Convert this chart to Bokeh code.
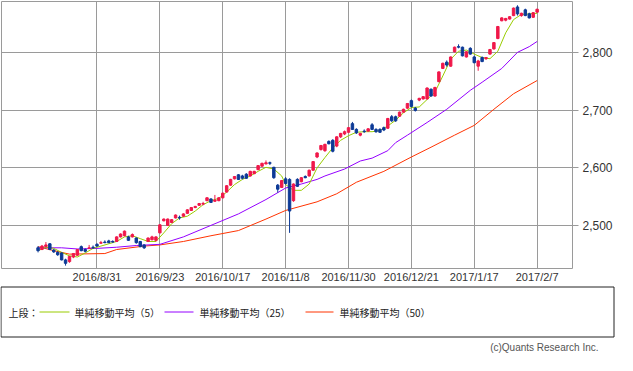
from bokeh.plotting import figure
from bokeh.models import FixedTicker, Range1d, ColumnDataSource
from bokeh.layouts import column
from bokeh.core.properties import value
from bokeh.embed import file_html
from bokeh.resources import INLINE

# ---- daily candles (index 0..127) ----
opens = [2461, 2458, 2463, 2468, 2457, 2453, 2452, 2440, 2437, 2445, 2448, 2463, 2458, 2460, 2462, 2467,
         2469, 2471, 2473, 2472, 2472, 2480, 2482, 2480, 2480, 2478, 2472, 2466, 2472, 2475, 2474, 2487,
         2508, 2500, 2505, 2513, 2514, 2516, 2521, 2526, 2531, 2535, 2537, 2543, 2546, 2542, 2543, 2548,
         2558, 2570, 2581, 2588, 2586, 2589, 2586, 2590, 2597, 2603, 2607, 2609, 2601, 2570, 2566, 2581,
         2580, 2543, 2580, 2576, 2585, 2586, 2596, 2619, 2632, 2630, 2646, 2648, 2638, 2654, 2659, 2662,
         2677, 2667, 2657, 2664, 2664, 2675, 2667, 2667, 2670, 2669, 2689, 2689, 2690, 2697, 2704, 2717,
         2704, 2718, 2720, 2720, 2737, 2725, 2750, 2773, 2784, 2777, 2802, 2811, 2810, 2793, 2808, 2793,
         2777, 2792, 2790, 2798, 2807, 2825, 2856, 2857, 2859, 2865, 2880, 2865, 2875, 2868, 2862, 2871]
highs = [2464, 2466, 2471, 2469, 2459, 2455, 2453, 2442, 2447, 2452, 2459, 2465, 2460, 2466, 2465, 2469,
         2473, 2474, 2475, 2474, 2481, 2486, 2491, 2482, 2486, 2479, 2473, 2467, 2479, 2482, 2481, 2502,
         2512, 2512, 2511, 2519, 2517, 2521, 2528, 2532, 2534, 2539, 2541, 2549, 2547, 2553, 2549, 2557,
         2570, 2581, 2586, 2589, 2588, 2591, 2595, 2595, 2605, 2609, 2613, 2611, 2602, 2572, 2579, 2584,
         2582, 2573, 2582, 2584, 2587, 2597, 2612, 2627, 2640, 2642, 2648, 2650, 2655, 2661, 2665, 2671,
         2680, 2669, 2661, 2667, 2669, 2678, 2669, 2669, 2672, 2687, 2692, 2691, 2698, 2703, 2713, 2719,
         2706, 2722, 2725, 2740, 2738, 2741, 2768, 2783, 2787, 2794, 2811, 2815, 2811, 2803, 2810, 2795,
         2788, 2794, 2793, 2807, 2819, 2847, 2862, 2861, 2864, 2879, 2883, 2870, 2877, 2870, 2871, 2877]
lows = [2453, 2457, 2462, 2457, 2452, 2447, 2439, 2430, 2435, 2443, 2447, 2455, 2453, 2459, 2459, 2463,
        2468, 2469, 2469, 2470, 2471, 2479, 2481, 2473, 2479, 2468, 2462, 2459, 2471, 2474, 2472, 2486,
        2507, 2499, 2504, 2512, 2510, 2515, 2520, 2525, 2530, 2534, 2535, 2542, 2539, 2541, 2542, 2547,
        2557, 2569, 2580, 2579, 2580, 2581, 2585, 2589, 2596, 2602, 2606, 2605, 2581, 2557, 2565, 2571,
        2487, 2541, 2567, 2575, 2582, 2585, 2595, 2617, 2630, 2628, 2641, 2627, 2636, 2652, 2657, 2661,
        2666, 2659, 2655, 2661, 2663, 2666, 2661, 2661, 2664, 2668, 2680, 2680, 2689, 2696, 2703, 2705,
        2698, 2716, 2719, 2719, 2724, 2724, 2749, 2772, 2776, 2776, 2801, 2808, 2794, 2792, 2797, 2782,
        2769, 2784, 2788, 2797, 2806, 2824, 2855, 2855, 2858, 2864, 2865, 2863, 2864, 2860, 2861, 2870]
closes = [2456, 2464, 2466, 2458, 2454, 2449, 2440, 2434, 2446, 2451, 2458, 2456, 2455, 2461, 2461, 2464,
          2470, 2470, 2470, 2471, 2480, 2485, 2490, 2474, 2484, 2470, 2463, 2461, 2478, 2480, 2480, 2501,
          2511, 2511, 2510, 2518, 2513, 2520, 2527, 2531, 2533, 2538, 2538, 2548, 2540, 2544, 2548, 2556,
          2569, 2580, 2585, 2580, 2582, 2582, 2594, 2594, 2604, 2608, 2609, 2608, 2583, 2563, 2578, 2573,
          2525, 2572, 2568, 2583, 2583, 2596, 2611, 2626, 2639, 2641, 2642, 2629, 2654, 2660, 2663, 2670,
          2667, 2661, 2660, 2663, 2668, 2667, 2663, 2662, 2666, 2686, 2682, 2682, 2697, 2702, 2712, 2707,
          2700, 2721, 2724, 2739, 2725, 2740, 2767, 2782, 2779, 2793, 2810, 2810, 2795, 2802, 2798, 2783,
          2786, 2785, 2792, 2806, 2818, 2846, 2861, 2860, 2863, 2878, 2868, 2869, 2865, 2861, 2870, 2876]

# ---- moving averages (index, value) ----
ma5_idx = [0, 2, 4, 6, 8, 10, 12, 14, 16, 18, 20, 22, 24, 26, 28, 30, 32, 34, 36, 38, 40, 42, 44, 46,
           48, 50, 52, 54, 56, 58, 60, 62, 63, 65, 67, 69, 71, 73, 75, 77, 79, 81, 83, 85, 87, 89, 91,
           93, 95, 97, 99, 101, 103, 105, 107, 109, 111, 113, 115, 117, 119, 121, 123, 125, 127]
ma5_val = [2456, 2462, 2460, 2453, 2447, 2445, 2452, 2460, 2464, 2468, 2472, 2480, 2482, 2477, 2472,
           2472, 2487, 2503, 2513, 2516, 2525, 2536, 2543, 2547, 2558, 2571, 2580, 2586, 2594, 2601,
           2598, 2586, 2571, 2561, 2561, 2572, 2600, 2618, 2635, 2648, 2656, 2662, 2663, 2663, 2665,
           2673, 2683, 2696, 2705, 2706, 2719, 2732, 2760, 2789, 2803, 2805, 2798, 2792, 2790, 2803,
           2835, 2858, 2867, 2868, 2869]
ma25_idx = [0, 6, 10, 15, 20, 25, 31, 37, 44, 51, 58, 63, 67, 71, 73, 78, 82, 85, 89, 91, 94, 99,
            104, 110, 113, 118, 122, 125, 127]
ma25_val = [2461, 2461, 2459, 2460, 2462, 2465, 2467, 2480, 2500, 2520, 2545, 2565, 2572, 2580, 2586,
            2598, 2612, 2617, 2630, 2644, 2657, 2679, 2702, 2735, 2749, 2773, 2801, 2811, 2820]
ma50_idx = [0, 4, 8, 17, 20, 27, 31, 37, 44, 51, 58, 63, 71, 76, 81, 88, 95, 100, 106, 111, 116, 121, 127]
ma50_val = [2463, 2456, 2450, 2451, 2458, 2464, 2466, 2472, 2482, 2491, 2511, 2526, 2541, 2555, 2575,
            2594, 2619, 2636, 2657, 2674, 2702, 2729, 2752]

x_ticks = [15, 31, 47, 63, 79, 95, 111, 127]
x_labels = ["2016/8/31", "2016/9/23", "2016/10/17", "2016/11/8", "2016/11/30",
            "2016/12/21", "2017/1/17", "2017/2/7"]
y_ticks = [2500, 2600, 2700, 2800]
y_labels = ["2,500", "2,600", "2,700", "2,800"]

legend_head = "上段："
ma_labels = ["単純移動平均（5）", "単純移動平均（25）", "単純移動平均（50）"]
ma_colors = ["#99cc00", "#9400ff", "#ff3300"]
copyright_text = "(c)Quants Research Inc."

UP = "#f0184a"
DOWN = "#0d3a96"
GRID = "#9a9a9a"
LABEL_FONT = "Liberation Sans"

idx = list(range(len(opens)))
colors = [UP if c >= o else DOWN for o, c in zip(opens, closes)]
src = ColumnDataSource(dict(
    x=idx, top=[max(o, c) for o, c in zip(opens, closes)],
    bottom=[min(o, c) for o, c in zip(opens, closes)],
    high=highs, low=lows, color=colors))

p = figure(width=615, height=285, x_range=Range1d(-9.3, 136), y_range=Range1d(2425, 2889.5),
           y_axis_location="right", output_backend="svg", toolbar_location=None,
           min_border_left=1, min_border_top=1, min_border_bottom=17, min_border_right=40)
p.background_fill_color = "white"
p.border_fill_color = "white"
p.outline_line_color = GRID
p.outline_line_width = 1

p.xaxis.ticker = FixedTicker(ticks=x_ticks)
p.xaxis.major_label_overrides = {t: l for t, l in zip(x_ticks, x_labels)}
p.yaxis.ticker = FixedTicker(ticks=y_ticks)
p.yaxis.major_label_overrides = {t: l for t, l in zip(y_ticks, y_labels)}
for ax in (p.xaxis[0], p.yaxis[0]):
    ax.axis_line_color = None
    ax.minor_tick_line_color = None
    ax.major_label_text_font = LABEL_FONT
    ax.major_label_text_color = "#333333"
p.xaxis.major_tick_line_color = None
p.xaxis.major_tick_out = 0
p.xaxis.major_tick_in = 0
p.xaxis.major_label_text_font_size = "11px"
p.xaxis.major_label_standoff = 2
p.yaxis.major_tick_line_color = GRID
p.yaxis.major_tick_in = 0
p.yaxis.major_tick_out = 6
p.yaxis.major_label_text_font_size = "12px"
p.yaxis.major_label_standoff = 4
p.xgrid.ticker = FixedTicker(ticks=x_ticks)
p.grid.grid_line_color = GRID
p.grid.grid_line_width = 1

# moving averages
p.line(ma50_idx, ma50_val, line_color=ma_colors[2], line_width=1)
p.line(ma25_idx, ma25_val, line_color=ma_colors[1], line_width=1)
p.line(ma5_idx, ma5_val, line_color=ma_colors[0], line_width=1)

# candles
p.segment(x0="x", y0="low", x1="x", y1="high", line_color="color", line_width=1, source=src)
p.vbar(x="x", top="top", bottom="bottom", width=0.62, fill_color="color", line_color="color",
       line_width=1, source=src)

# ---- legend / footer panel (1 unit = 1 px) ----
lf = figure(width=615, height=68, x_range=Range1d(0, 615), y_range=Range1d(0, 68),
            output_backend="svg", toolbar_location=None, min_border=0,
            min_border_left=0, min_border_right=0, min_border_top=0, min_border_bottom=0,
            x_axis_location=None, y_axis_location=None)
lf.grid.visible = False
lf.outline_line_color = None
lf.background_fill_color = "white"
lf.border_fill_color = "white"
lf.quad(left=[0.5], right=[613.5], bottom=[16.5], top=[66.5], fill_color=None,
        line_color="#222222", line_width=1)
sample_x0 = [39, 164, 305]
sample_x1 = [69, 193, 333]
for k in range(3):
    lf.line([sample_x0[k], sample_x1[k]], [41.5, 41.5], line_color=ma_colors[k], line_width=1)
lf.text(x=[8, 74, 199, 339], y=[41.5, 41.5, 41.5, 41.5], text=[legend_head] + ma_labels,
        text_font=value("Noto Sans CJK JP"), text_font_size=value("10px"),
        text_baseline="middle", text_align="left", text_color="#222222")
lf.text(x=[598], y=[6], text=[copyright_text], text_font=value(LABEL_FONT),
        text_font_size=value("10px"), text_baseline="middle", text_align="right",
        text_color="#555555")

layout = column(p, column(lf, spacing=0), spacing=0)
open("out.html", "w").write(file_html(layout, INLINE))
